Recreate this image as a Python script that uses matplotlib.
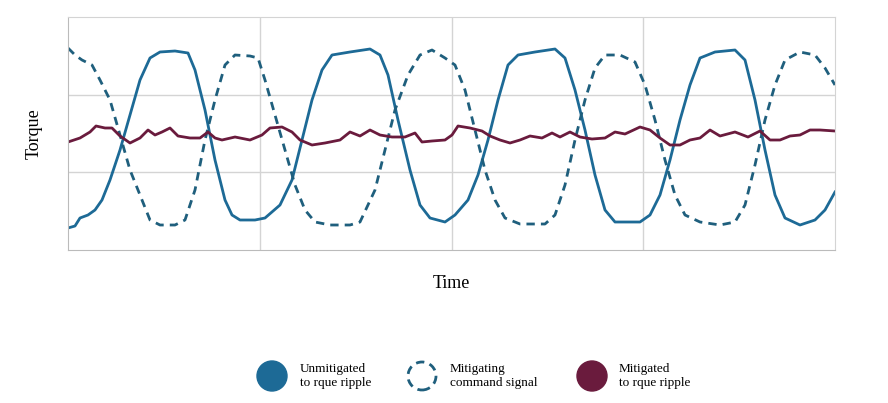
import matplotlib.pyplot as plt
import numpy as np
from matplotlib.patches import Circle

# values (time in px-like units, torque as height above the axis floor)
blue_t = [68, 75, 80, 88, 95, 102, 110, 120, 130, 140, 150, 160, 175, 188, 195, 205, 215, 225, 232, 240, 255, 265, 280, 292, 302, 312, 322, 332, 350, 370, 380, 388, 398, 410, 420, 430, 445, 455, 468, 478, 488, 498, 508, 518, 535, 555, 565, 575, 585, 595, 605, 615, 640, 650, 660, 670, 680, 690, 700, 715, 735, 745, 755, 765, 775, 785, 800, 815, 825, 835]
blue_y = [22, 24, 32, 35, 40, 50, 70, 100, 135, 170, 192, 198, 199, 197, 180, 140, 90, 50, 35, 30, 30, 32, 45, 70, 110, 150, 180, 195, 198, 201, 195, 175, 130, 80, 45, 32, 28, 35, 50, 75, 110, 150, 185, 195, 198, 201, 192, 160, 120, 75, 40, 28, 28, 35, 55, 90, 130, 165, 192, 198, 200, 190, 150, 100, 55, 32, 25, 30, 40, 58]

cmd_t = [68, 75, 82, 92, 100, 110, 120, 130, 140, 150, 160, 175, 185, 195, 205, 215, 225, 235, 250, 258, 265, 275, 285, 295, 305, 315, 330, 350, 360, 375, 385, 395, 408, 420, 432, 445, 455, 465, 475, 485, 495, 505, 520, 545, 555, 565, 575, 585, 595, 605, 620, 635, 645, 655, 665, 675, 685, 700, 720, 735, 745, 755, 765, 775, 785, 800, 815, 825, 835]
cmd_y = [202, 195, 190, 185, 170, 150, 115, 80, 55, 30, 25, 25, 30, 60, 110, 150, 185, 195, 194, 192, 170, 135, 100, 65, 40, 28, 25, 25, 28, 60, 100, 140, 175, 195, 200, 192, 185, 160, 120, 80, 50, 32, 26, 26, 35, 65, 110, 150, 182, 195, 195, 188, 165, 130, 90, 55, 35, 28, 25, 28, 45, 85, 130, 165, 190, 198, 195, 182, 165]

red_t = [68, 80, 90, 96, 105, 112, 120, 130, 140, 148, 155, 162, 170, 178, 190, 200, 208, 215, 222, 235, 250, 262, 270, 282, 292, 300, 312, 325, 340, 350, 360, 370, 380, 392, 405, 415, 422, 432, 445, 452, 458, 470, 482, 490, 500, 510, 520, 530, 542, 552, 560, 570, 580, 592, 605, 615, 625, 640, 650, 660, 670, 680, 690, 700, 710, 720, 735, 748, 760, 770, 780, 790, 800, 810, 820, 835]
red_y = [108, 112, 118, 124, 122, 122, 114, 107, 112, 120, 115, 118, 122, 114, 112, 112, 118, 112, 110, 113, 110, 115, 122, 123, 118, 110, 105, 107, 110, 118, 114, 120, 115, 113, 113, 117, 108, 109, 110, 115, 124, 122, 119, 114, 110, 107, 110, 114, 112, 117, 113, 118, 113, 111, 112, 118, 116, 123, 120, 112, 105, 105, 110, 112, 120, 114, 118, 113, 119, 110, 110, 114, 115, 120, 120, 119]

c_blue = '#1d6a96'
c_cmd = '#1f5f7d'
c_red = '#6a1b3d'

plt.rcParams['font.family'] = 'Liberation Serif'
fig = plt.figure(figsize=(8.88, 4.03), dpi=100)
ax = fig.add_axes([68 / 888, 153 / 403, 767 / 888, 233 / 403])

ax.plot(blue_t, blue_y, color=c_blue, lw=2)
ax.plot(cmd_t, cmd_y, color=c_cmd, lw=2, linestyle=(0, (3, 2.2)))
ax.plot(red_t, red_y, color=c_red, lw=2)

ax.set_xlim(68, 835)
ax.set_ylim(0, 233)
ax.set_xticks([260, 452, 643])
ax.set_yticks([78, 155])
ax.tick_params(length=0, labelbottom=False, labelleft=False)
ax.grid(True, color='#d4d4d4', lw=1)
for s in ax.spines.values():
    s.set_color('#d4d4d4')
ax.spines['bottom'].set_color('#bbbbbb')
ax.spines['left'].set_color('#bbbbbb')
ax.set_ylabel('Torque', fontsize=13, labelpad=18)
ax.set_xlabel('Time', fontsize=13, labelpad=18)

# legend drawn by hand
lax = fig.add_axes([0, 0, 1, 0.2])
lax.set_xlim(0, 888)
lax.set_ylim(0, 80.6)
lax.axis('off')
lax.add_patch(Circle((272, 27), 15, color=c_blue))
lax.add_patch(Circle((422, 27), 14, fill=False, edgecolor=c_cmd, lw=2, linestyle=(0, (3, 2))))
lax.add_patch(Circle((592, 27), 15, color=c_red))
lax.text(300, 27, 'Unmitigated\nto rque ripple', fontsize=9.5, va='center')
lax.text(450, 27, 'Mitigating\ncommand signal', fontsize=9.5, va='center')
lax.text(619, 27, 'Mitigated\nto rque ripple', fontsize=9.5, va='center')

fig.savefig('out.png', dpi=100)
